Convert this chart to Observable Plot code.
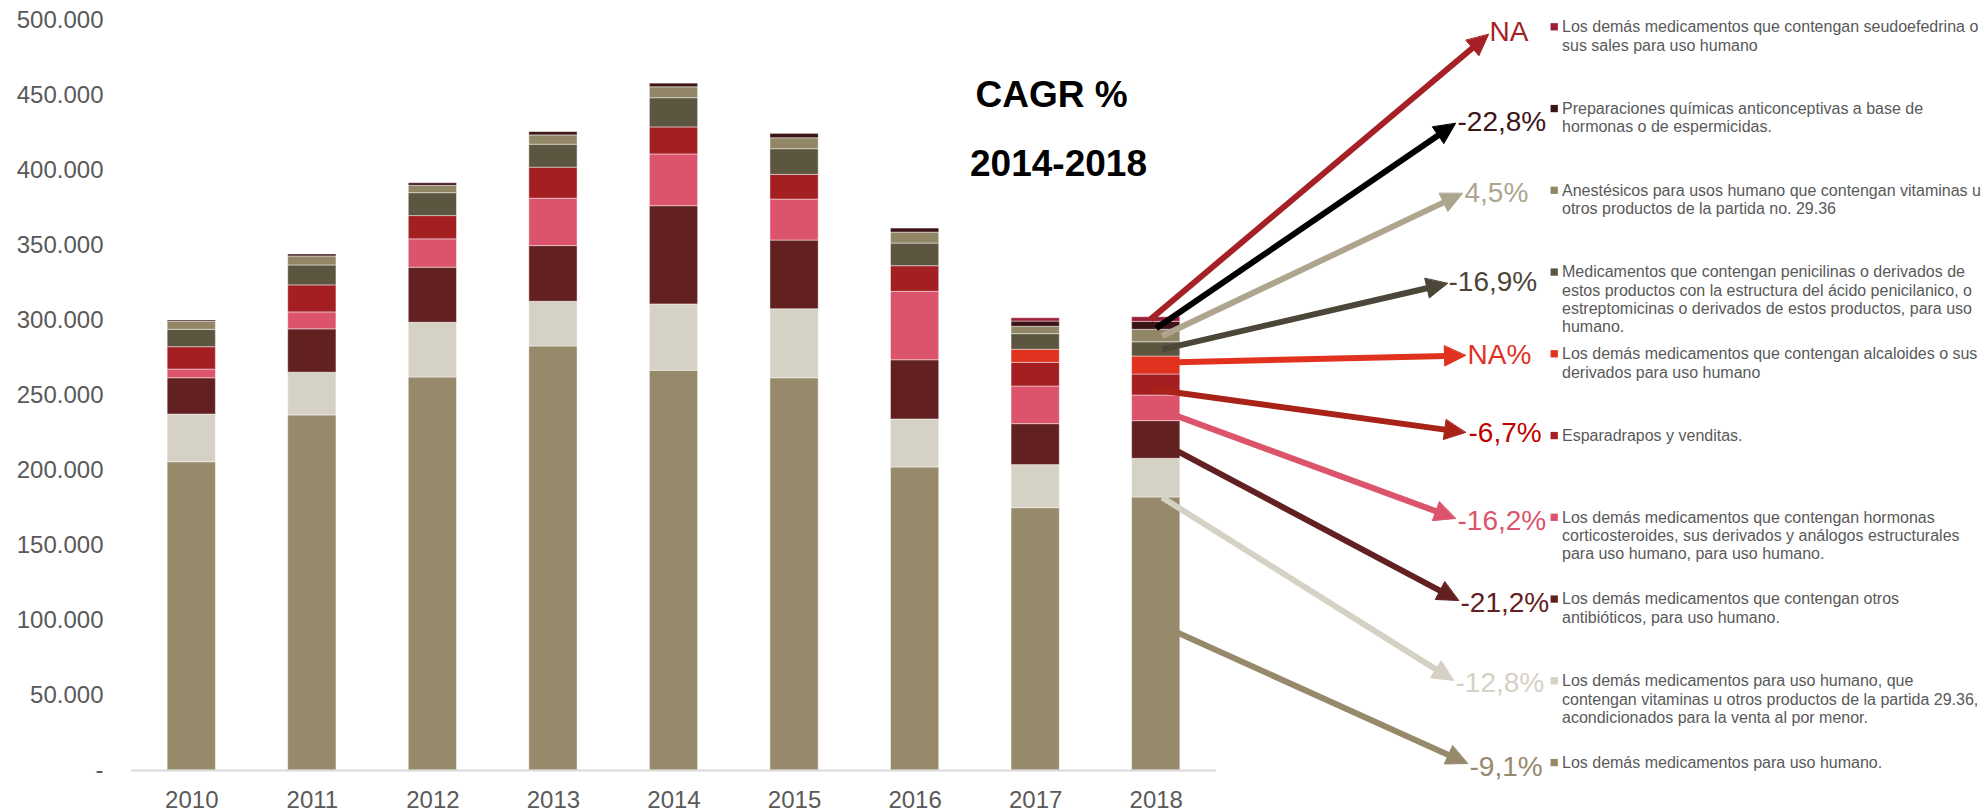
<!DOCTYPE html>
<html>
<head>
<meta charset="utf-8">
<script src="https://cdn.jsdelivr.net/npm/d3@7"></script>
<script src="https://cdn.jsdelivr.net/npm/@observablehq/plot@0.6"></script>
<style>
  html, body { margin: 0; padding: 0; background: #ffffff; }
  #chart svg { display: block; }
</style>
</head>
<body>
<div id="chart"></div>
<script>
// ---------------- DATA ----------------
const years = [2010, 2011, 2012, 2013, 2014, 2015, 2016, 2017, 2018];

// series in stacking order (bottom -> top)
const seriesNames = [
  "Los demás medicamentos para uso humano.",
  "Los demás medicamentos para uso humano, que\ncontengan vitaminas u otros productos de la partida 29.36,\nacondicionados para la venta al por menor.",
  "Los demás medicamentos que contengan otros\nantibióticos, para uso humano.",
  "Los demás medicamentos que contengan hormonas\ncorticosteroides, sus derivados y análogos estructurales\npara uso humano, para uso humano.",
  "Esparadrapos y venditas.",
  "Los demás medicamentos que contengan alcaloides o sus\nderivados para uso humano",
  "Medicamentos que contengan penicilinas o derivados de\nestos productos con la estructura del ácido penicilanico, o\nestreptomicinas o derivados de estos productos, para uso\nhumano.",
  "Anestésicos para usos humano que contengan vitaminas u\notros productos de la partida no. 29.36",
  "Preparaciones químicas anticonceptivas a base de\nhormonas o de espermicidas.",
  "Los demás medicamentos que contengan seudoefedrina o\nsus sales para uso humano"
];

const otrosMedicamentos   = [205500, 236700, 262000, 282700, 266500, 261500, 202000, 174900, 182000];
const vitaminasMenor      = [31800, 28500, 36500, 29800, 44200, 46000, 32000, 28700, 25800];
const otrosAntibioticos   = [24200, 28900, 36700, 37100, 65500, 45800, 39500, 27300, 25100];
const hormonasCortico     = [5800, 11300, 18900, 31600, 34500, 27300, 45600, 25100, 17100];
const esparadrapos        = [14900, 18000, 15500, 20700, 18000, 16500, 17100, 15800, 14000];
const alcaloides          = [0, 0, 0, 0, 0, 0, 0, 8700, 12000];
const penicilinas         = [11600, 13300, 15300, 15300, 19500, 17100, 15100, 10400, 9500];
const anestesicos         = [5300, 6000, 4900, 6200, 7300, 7300, 7300, 4900, 8300];
const anticonceptivas     = [900, 1300, 1700, 2200, 2400, 2900, 2700, 3500, 5300];
const seudoefedrina       = [0, 0, 0, 0, 0, 0, 0, 2200, 3100];

const seriesValues = [otrosMedicamentos, vitaminasMenor, otrosAntibioticos, hormonasCortico,
  esparadrapos, alcaloides, penicilinas, anestesicos, anticonceptivas, seudoefedrina];

const seriesColors = ["#968a6b", "#d5d1c4", "#622020", "#dc546b", "#a31f22",
  "#e0321f", "#5c5540", "#918767", "#3c1416", "#9b1e36"];

// CAGR 2014-2018 labels, legend order (top -> bottom)
const cagrLabels = ["NA", "-22,8%", "4,5%", "-16,9%", "NA%", "-6,7%", "-16,2%", "-21,2%", "-12,8%", "-9,1%"];
const arrowColors = ["#a52126", "#000000", "#ada58e", "#4b4637", "#e0321f", "#a82218", "#dc546b", "#622020", "#d5d1c4", "#968a6b"];
const cagrTextColors = ["#a52126", "#3c1416", "#ada58e", "#4b4637", "#e0321f", "#c00000", "#dc546b", "#622020", "#d5d1c4", "#968a6b"];

const yTicks = d3.range(0, 500001, 50000);
const titleLines = ["CAGR %", "2014-2018"];

// ---------------- LAYOUT (pixels) ----------------
const W = 1986, H = 809;
const M = {left: 131, right: 770, top: 20, bottom: 39};
const X_DOMAIN = [2009.5, 2018.5];
const Y_DOMAIN = [0, 500000];
const BAR_HALF = 0.2;
const xs = d3.scaleLinear(X_DOMAIN, [M.left, W - M.right]);
const ys = d3.scaleLinear(Y_DOMAIN, [H - M.bottom, M.top]);

const tipPx = [[1488,34],[1455,123],[1462,193],[1447,283],[1465,355],[1465,432],[1455,518],[1458,600],[1453,680],[1467,763]];
const labelPx = [[1489,40],[1457,130],[1464,201.7],[1448,290],[1467,363],[1468,441.7],[1457,529],[1460,611.7],[1455,691.7],[1469,775]];
const startDx = [-6, 0, 6, 6, 0, -4, 0, 0, 6, 0];
const startFrac = [0.5, 0.2, 0.5, 0.5, 0.65, 0.3, 0.5, 0.5, 0.0, 0.54];
const HEAD_LEN = 21, HEAD_W = 20, SHAFT_W = 6;
const LEGEND_BASE0 = 31.7, LEGEND_STEP = 81.75, LEGEND_SQ_X = 1553.7, LEGEND_TX = 1561.5;
const LEGEND_FS = 16, LEGEND_LH = 1.144;
const titlePx = [[1051, 106.7], [1058, 175]];

// ---------------- BUILD ----------------
const rows = [];
years.forEach((yr, j) => {
  let acc = 0;
  seriesValues.forEach((arr, i) => {
    const v = arr[j];
    if (v > 0) rows.push({year: yr, series: seriesNames[i], y1: acc, y2: acc + v});
    acc += v;
  });
});

const last = years.length - 1;
const nS = seriesValues.length;
const arrows = cagrLabels.map((lab, k) => {
  const si = nS - 1 - k;
  const lower = d3.sum(seriesValues.slice(0, si), a => a[last]);
  const v = seriesValues[si][last];
  const sx = xs(years[last]) + startDx[k];
  const sy = ys(lower + startFrac[k] * v);
  const [tx, ty] = tipPx[k];
  const dx = tx - sx, dy = ty - sy, len = Math.hypot(dx, dy);
  const ux = dx / len, uy = dy / len, nx = -uy, ny = ux;
  const bx = tx - ux * HEAD_LEN, by = ty - uy * HEAD_LEN;
  const head = [[tx, ty], [bx + nx * HEAD_W / 2, by + ny * HEAD_W / 2], [bx - nx * HEAD_W / 2, by - ny * HEAD_W / 2]]
    .map(([px, py]) => ({x: xs.invert(px), y: ys.invert(py)}));
  const shaft = [{x1: xs.invert(sx), y1: ys.invert(sy), x2: xs.invert(bx + ux * 2), y2: ys.invert(by + uy * 2)}];
  const label = [{x: xs.invert(labelPx[k][0]), y: ys.invert(labelPx[k][1]), t: lab}];
  return {head, shaft, label, k};
});

const legendRows = seriesNames.map((name, i) => {
  const k = nS - 1 - i;
  const base = LEGEND_BASE0 + k * LEGEND_STEP;
  return {
    name,
    sqX: xs.invert(LEGEND_SQ_X), sqY: ys.invert(base - 5.4),
    tX: xs.invert(LEGEND_TX), tY: ys.invert(base - 0.71 * LEGEND_LH * LEGEND_FS)
  };
});

const yFmt = d => d === 0 ? "-" : d3.format(",")(d).replace(/,/g, ".");

const marks = [
  Plot.rect(rows, {
    x1: d => d.year - BAR_HALF, x2: d => d.year + BAR_HALF,
    y1: "y1", y2: "y2", fill: "series",
    stroke: "#ffffff", strokeOpacity: 0.45, strokeWidth: 1
  }),
  Plot.ruleY([0], {x1: X_DOMAIN[0], x2: X_DOMAIN[1], stroke: "#d9d9d9", strokeWidth: 2}),
  Plot.axisY(yTicks, {tickFormat: yFmt, tickSize: 0, tickPadding: 28, fontSize: 24, label: null}),
  Plot.axisX(years, {tickFormat: d => String(d), tickSize: 0, tickPadding: 20, fontSize: 24, label: null}),
  Plot.text(titleLines.map((t, i) => ({t, x: xs.invert(titlePx[i][0]), y: ys.invert(titlePx[i][1])})), {
    x: "x", y: "y", text: "t", fontSize: 37, fontWeight: "bold", fill: "#000000",
    textAnchor: "middle", lineAnchor: "bottom"
  })
];

arrows.forEach(a => {
  marks.push(Plot.link(a.shaft, {x1: "x1", y1: "y1", x2: "x2", y2: "y2",
    stroke: arrowColors[a.k], strokeWidth: SHAFT_W, strokeLinecap: "butt"}));
  marks.push(Plot.line(a.head, {x: "x", y: "y", fill: arrowColors[a.k], stroke: arrowColors[a.k],
    strokeWidth: 1, curve: "linear-closed"}));
  marks.push(Plot.text(a.label, {x: "x", y: "y", text: "t", fill: cagrTextColors[a.k],
    fontSize: 28, textAnchor: "start", lineAnchor: "bottom"}));
});

marks.push(Plot.dot(legendRows, {x: "sqX", y: "sqY", fill: "name", symbol: "square", r: 4.12, stroke: null}));
marks.push(Plot.text(legendRows, {x: "tX", y: "tY", text: "name", fill: "#595959", fontSize: LEGEND_FS,
  lineHeight: LEGEND_LH, textAnchor: "start", lineAnchor: "top"}));

const chart = Plot.plot({
  width: W, height: H,
  marginLeft: M.left, marginRight: M.right, marginTop: M.top, marginBottom: M.bottom,
  x: {type: "linear", domain: X_DOMAIN, range: [M.left, W - M.right], label: null},
  y: {type: "linear", domain: Y_DOMAIN, range: [H - M.bottom, M.top], label: null},
  color: {domain: seriesNames, range: seriesColors},
  style: {fontFamily: "'Liberation Sans', Arial, sans-serif", fontSize: "24px", color: "#595959", background: "#ffffff", overflow: "visible"},
  marks
});
document.getElementById("chart").appendChild(chart);
</script>
</body>
</html>
